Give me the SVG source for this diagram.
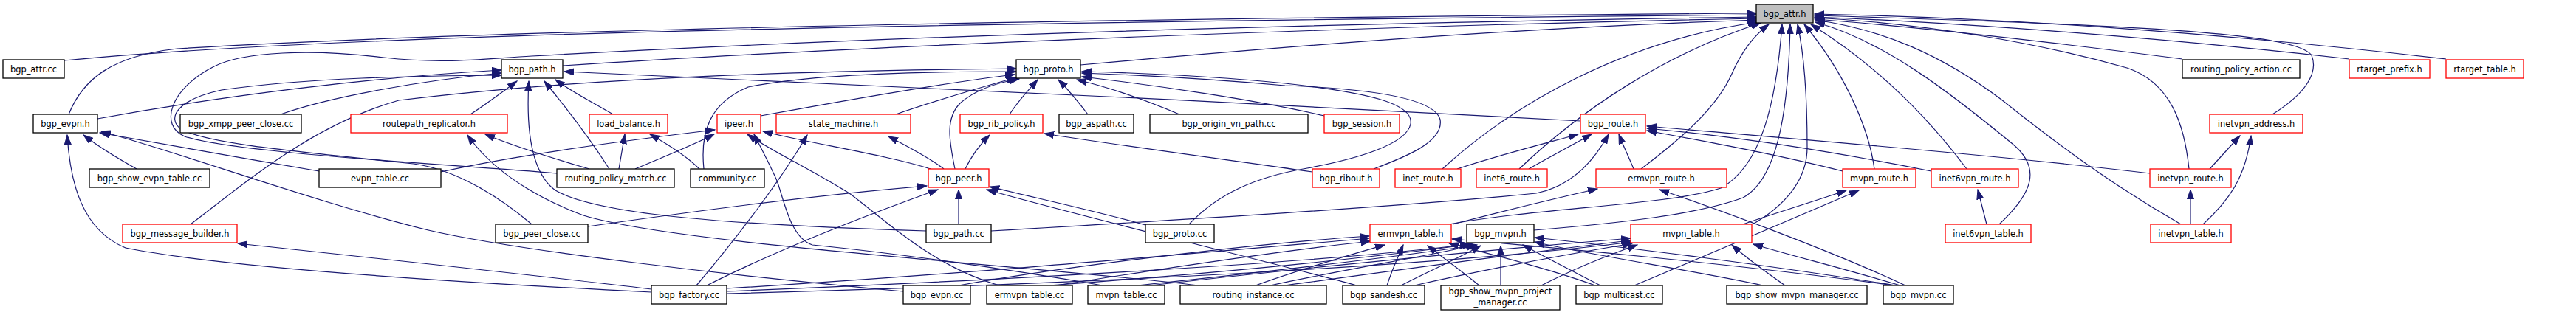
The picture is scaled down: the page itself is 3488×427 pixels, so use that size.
<svg xmlns="http://www.w3.org/2000/svg" width="3488" height="427" viewBox="0 0 3488 427">
<style>
.n rect{fill:#fff;stroke:#000;stroke-width:1.3}
.r rect{fill:#fff;stroke:#f00;stroke-width:1.3}
.g rect{fill:#bfbfbf;stroke:#000;stroke-width:1.3}
text{font-family:"DejaVu Sans","Liberation Sans",sans-serif;font-size:11.4px;text-anchor:middle;fill:#000}
#edges path{fill:none;stroke:#191970;stroke-width:1.2;marker-end:url(#ah)}
</style>
<defs>
<marker id="ah" markerWidth="14" markerHeight="10" refX="13" refY="5" orient="auto" markerUnits="userSpaceOnUse"><path d="M0,0.5 L13,5 L0,9.5 z" fill="#191970" stroke="#191970" stroke-width="1"/></marker>
</defs>
<rect width="3488" height="427" fill="#fff"/>
<g id="edges">
<path d="M87,82 C400,52 1000,33 2378,20"/>
<path d="M93,155 C112,108 150,76 240,66 C700,38 1600,24 2378,18"/>
<path d="M754,235 C600,222 320,208 250,185 C215,170 230,120 290,90 C330,70 420,66 520,78 C600,87 650,80 720,76 C1300,44 1900,30 2378,23"/>
<path d="M762,89 C1200,60 1900,34 2378,25"/>
<path d="M1463,88 C1750,62 2050,38 2378,27"/>
<path d="M1953,229 C2050,140 2200,55 2380,30"/>
<path d="M2057,229 C2140,150 2250,75 2384,31"/>
<path d="M2222,229 C2280,185 2325,145 2345,100 C2358,70 2375,48 2395,33"/>
<path d="M1962,304 C2080,282 2260,278 2330,255 C2385,225 2405,140 2413,33"/>
<path d="M2077,312 C2200,302 2300,290 2360,268 C2412,240 2422,130 2424,33"/>
<path d="M2373,304 C2415,280 2447,245 2447,200 C2447,130 2442,70 2434,33"/>
<path d="M2538,229 C2530,170 2495,95 2443,33"/>
<path d="M2663,229 C2630,185 2560,100 2452,33"/>
<path d="M2707,304 C2752,262 2765,228 2725,195 C2640,125 2550,55 2458,30"/>
<path d="M2953,304 C2880,262 2810,215 2710,135 C2630,75 2550,40 2458,27"/>
<path d="M2964,229 C2958,170 2940,112 2880,92 C2760,58 2610,32 2457,24"/>
<path d="M3077,155 C3120,128 3140,100 3130,75 C3110,45 2900,34 2457,21"/>
<path d="M2955,80 C2800,60 2620,38 2457,26"/>
<path d="M3181,80 C2920,50 2640,30 2457,23"/>
<path d="M3312,80 C3020,46 2720,24 2457,19"/>
<path d="M132,161 C300,130 500,105 679,95"/>
<path d="M380,155 C450,130 580,108 679,99"/>
<path d="M720,304 C680,270 620,230 560,222 C400,205 280,195 245,175 C225,160 240,135 300,122 C420,105 560,103 679,102"/>
<path d="M637,155 C660,140 680,125 700,110"/>
<path d="M1254,313 C1000,305 810,292 752,258 C720,235 712,180 716,110"/>
<path d="M825,229 C800,190 770,150 737,110"/>
<path d="M830,155 C805,140 775,125 752,108"/>
<path d="M2140,164 C1700,140 1100,110 764,97"/>
<path d="M258,304 C330,250 420,170 540,136 C800,104 1100,96 1376,93"/>
<path d="M953,229 C948,180 960,140 1013,118 C1100,100 1250,97 1376,97"/>
<path d="M1030,157 C1150,135 1280,112 1374,101"/>
<path d="M1213,155 C1270,135 1330,118 1376,105"/>
<path d="M1293,229 C1285,190 1280,160 1300,140 C1320,122 1350,112 1380,107"/>
<path d="M1367,155 C1380,135 1393,122 1405,108"/>
<path d="M1473,155 C1460,138 1447,122 1433,108"/>
<path d="M1597,155 C1550,135 1500,118 1458,108"/>
<path d="M1793,157 C1700,135 1560,115 1465,104"/>
<path d="M1610,304 C1650,262 1700,240 1770,228 C1840,215 1905,195 1910,168 C1915,140 1850,125 1740,113 C1650,104 1550,99 1465,97"/>
<path d="M1860,229 C1905,212 1955,192 1950,162 C1942,132 1850,120 1740,116 C1650,108 1550,102 1465,99"/>
<path d="M1973,229 C2030,210 2090,195 2137,182"/>
<path d="M2070,229 C2100,212 2130,196 2155,182"/>
<path d="M1342,313 C1600,298 1900,280 2080,262 C2130,252 2160,215 2178,182"/>
<path d="M2212,229 C2205,212 2198,198 2192,182"/>
<path d="M2495,232 C2400,208 2300,190 2230,177"/>
<path d="M2615,232 C2480,205 2350,185 2230,174"/>
<path d="M2911,235 C2700,210 2450,190 2230,171"/>
<path d="M185,229 C160,215 135,200 113,183"/>
<path d="M432,232 C330,215 220,195 135,180"/>
<path d="M1223,395 C1000,375 700,340 580,312 C420,272 260,212 137,178"/>
<path d="M882,396 C600,382 300,362 170,336 C112,312 95,250 91,183"/>
<path d="M882,392 C700,370 460,345 322,330"/>
<path d="M798,229 C750,215 700,200 657,182"/>
<path d="M1623,387 C1400,360 920,332 790,292 C710,262 660,222 633,183"/>
<path d="M838,229 L846,182"/>
<path d="M947,229 C930,212 905,196 880,182"/>
<path d="M597,233 C700,210 850,190 968,176"/>
<path d="M860,229 C900,212 940,196 967,182"/>
<path d="M1260,229 C1200,210 1100,195 1033,178"/>
<path d="M1353,387 C1260,360 1195,295 1150,262 C1090,225 1045,205 1012,182"/>
<path d="M1493,387 C1350,362 1200,342 1100,332 C1070,322 1062,272 1052,245 C1042,222 1030,200 1021,182"/>
<path d="M943,387 C1000,320 1060,240 1093,183"/>
<path d="M1278,229 C1260,215 1232,200 1203,185"/>
<path d="M1307,229 C1315,212 1325,198 1340,183"/>
<path d="M1777,233 C1650,215 1500,195 1414,181"/>
<path d="M796,307 C950,285 1100,265 1255,252"/>
<path d="M957,387 C1050,340 1150,300 1270,257"/>
<path d="M1298,304 L1298,257"/>
<path d="M1551,305 C1480,285 1400,268 1340,253"/>
<path d="M1837,387 C1700,350 1450,290 1336,257"/>
<path d="M1967,304 C2040,285 2110,268 2163,256"/>
<path d="M2580,387 C2480,340 2330,285 2247,257"/>
<path d="M2360,304 C2400,290 2450,275 2500,258"/>
<path d="M2213,387 C2300,350 2420,300 2517,258"/>
<path d="M2690,304 L2678,257"/>
<path d="M2992,229 L3033,184"/>
<path d="M2983,304 C3020,270 3040,240 3048,184"/>
<path d="M2966,304 L2966,257"/>
<path d="M984,391 C1300,372 1600,345 1854,323"/>
<path d="M984,395 C1400,378 1800,355 1990,331"/>
<path d="M984,398 C1500,384 1950,360 2210,328"/>
<path d="M1298,387 C1450,360 1700,330 1854,320"/>
<path d="M1430,387 C1600,360 1750,338 1856,327"/>
<path d="M1420,387 C1650,370 1850,350 1993,331"/>
<path d="M1540,387 C1700,370 1880,350 2000,332"/>
<path d="M1557,387 C1750,365 2000,340 2208,323"/>
<path d="M1700,387 C1760,365 1830,345 1875,332"/>
<path d="M1720,387 C1820,365 1930,348 1998,332"/>
<path d="M1740,387 C1900,365 2080,340 2208,326"/>
<path d="M1878,387 C1885,365 1893,348 1900,332"/>
<path d="M1897,387 C1940,365 1975,350 2005,333"/>
<path d="M1915,387 C2000,368 2120,345 2210,330"/>
<path d="M2003,387 C1980,368 1955,350 1933,333"/>
<path d="M2032,387 L2032,333"/>
<path d="M2087,387 C2130,365 2180,345 2217,332"/>
<path d="M2167,387 C2130,368 2095,350 2062,332"/>
<path d="M2160,387 C2100,365 2020,345 1962,330"/>
<path d="M2387,387 C2300,368 2150,345 2078,328"/>
<path d="M2417,387 C2390,368 2365,350 2345,332"/>
<path d="M2573,387 C2500,365 2420,345 2374,331"/>
<path d="M2567,387 C2400,360 2200,335 2078,322"/>
<path d="M2565,387 C2350,358 2100,335 1966,324"/>
</g>
<g id="bgp_attr_h" class="g"><rect x="2378" y="6" width="77" height="25"/><text x="2416.5" y="22.5">bgp_attr.h</text></g>
<g id="bgp_attr_cc" class="n"><rect x="4" y="81" width="83" height="25"/><text x="45.5" y="97.5">bgp_attr.cc</text></g>
<g id="bgp_path_h" class="n"><rect x="679" y="81" width="83" height="25"/><text x="720.5" y="97.5">bgp_path.h</text></g>
<g id="bgp_proto_h" class="n"><rect x="1376" y="81" width="87" height="25"/><text x="1419.5" y="97.5">bgp_proto.h</text></g>
<g id="routing_policy_action_cc" class="n"><rect x="2955" y="81" width="159" height="25"/><text x="3034.5" y="97.5">routing_policy_action.cc</text></g>
<g id="rtarget_prefix_h" class="r"><rect x="3181" y="81" width="109" height="25"/><text x="3235.5" y="97.5">rtarget_prefix.h</text></g>
<g id="rtarget_table_h" class="r"><rect x="3312" y="81" width="105" height="25"/><text x="3364.5" y="97.5">rtarget_table.h</text></g>
<g id="bgp_evpn_h" class="n"><rect x="45" y="155" width="87" height="25"/><text x="88.5" y="171.5">bgp_evpn.h</text></g>
<g id="bgp_xmpp_peer_close_cc" class="n"><rect x="244" y="155" width="164" height="25"/><text x="326" y="171.5">bgp_xmpp_peer_close.cc</text></g>
<g id="routepath_replicator_h" class="r"><rect x="475" y="155" width="212" height="25"/><text x="581" y="171.5">routepath_replicator.h</text></g>
<g id="load_balance_h" class="r"><rect x="798" y="155" width="106" height="25"/><text x="851" y="171.5">load_balance.h</text></g>
<g id="ipeer_h" class="r"><rect x="971" y="155" width="59" height="25"/><text x="1000.5" y="171.5">ipeer.h</text></g>
<g id="state_machine_h" class="r"><rect x="1051" y="155" width="182" height="25"/><text x="1142" y="171.5">state_machine.h</text></g>
<g id="bgp_rib_policy_h" class="r"><rect x="1300" y="155" width="112" height="25"/><text x="1356" y="171.5">bgp_rib_policy.h</text></g>
<g id="bgp_aspath_cc" class="n"><rect x="1434" y="155" width="101" height="25"/><text x="1484.5" y="171.5">bgp_aspath.cc</text></g>
<g id="bgp_origin_vn_path_cc" class="n"><rect x="1557" y="155" width="214" height="25"/><text x="1664" y="171.5">bgp_origin_vn_path.cc</text></g>
<g id="bgp_session_h" class="r"><rect x="1793" y="155" width="102" height="25"/><text x="1844" y="171.5">bgp_session.h</text></g>
<g id="bgp_route_h" class="r"><rect x="2140" y="155" width="88" height="25"/><text x="2184" y="171.5">bgp_route.h</text></g>
<g id="inetvpn_address_h" class="r"><rect x="2992" y="155" width="126" height="25"/><text x="3055" y="171.5">inetvpn_address.h</text></g>
<g id="bgp_show_evpn_table_cc" class="n"><rect x="121" y="229" width="163" height="25"/><text x="202.5" y="245.5">bgp_show_evpn_table.cc</text></g>
<g id="evpn_table_cc" class="n"><rect x="432" y="229" width="165" height="25"/><text x="514.5" y="245.5">evpn_table.cc</text></g>
<g id="routing_policy_match_cc" class="n"><rect x="754" y="229" width="159" height="25"/><text x="833.5" y="245.5">routing_policy_match.cc</text></g>
<g id="community_cc" class="n"><rect x="935" y="229" width="100" height="25"/><text x="985" y="245.5">community.cc</text></g>
<g id="bgp_peer_h" class="r"><rect x="1257" y="229" width="82" height="25"/><text x="1298" y="245.5">bgp_peer.h</text></g>
<g id="bgp_ribout_h" class="r"><rect x="1777" y="229" width="91" height="25"/><text x="1822.5" y="245.5">bgp_ribout.h</text></g>
<g id="inet_route_h" class="r"><rect x="1889" y="229" width="89" height="25"/><text x="1933.5" y="245.5">inet_route.h</text></g>
<g id="inet6_route_h" class="r"><rect x="1999" y="229" width="96" height="25"/><text x="2047" y="245.5">inet6_route.h</text></g>
<g id="ermvpn_route_h" class="r"><rect x="2161" y="229" width="177" height="25"/><text x="2249.5" y="245.5">ermvpn_route.h</text></g>
<g id="mvpn_route_h" class="r"><rect x="2495" y="229" width="99" height="25"/><text x="2544.5" y="245.5">mvpn_route.h</text></g>
<g id="inet6vpn_route_h" class="r"><rect x="2615" y="229" width="118" height="25"/><text x="2674" y="245.5">inet6vpn_route.h</text></g>
<g id="inetvpn_route_h" class="r"><rect x="2911" y="229" width="110" height="25"/><text x="2966" y="245.5">inetvpn_route.h</text></g>
<g id="bgp_message_builder_h" class="r"><rect x="166" y="304" width="155" height="25"/><text x="243.5" y="320.5">bgp_message_builder.h</text></g>
<g id="bgp_peer_close_cc" class="n"><rect x="671" y="304" width="125" height="25"/><text x="733.5" y="320.5">bgp_peer_close.cc</text></g>
<g id="bgp_path_cc" class="n"><rect x="1254" y="304" width="88" height="25"/><text x="1298" y="320.5">bgp_path.cc</text></g>
<g id="bgp_proto_cc" class="n"><rect x="1551" y="304" width="93" height="25"/><text x="1597.5" y="320.5">bgp_proto.cc</text></g>
<g id="ermvpn_table_h" class="r"><rect x="1855" y="304" width="110" height="25"/><text x="1910" y="320.5">ermvpn_table.h</text></g>
<g id="bgp_mvpn_h" class="n"><rect x="1986" y="304" width="91" height="25"/><text x="2031.5" y="320.5">bgp_mvpn.h</text></g>
<g id="mvpn_table_h" class="r"><rect x="2208" y="304" width="164" height="25"/><text x="2290" y="320.5">mvpn_table.h</text></g>
<g id="inet6vpn_table_h" class="r"><rect x="2634" y="304" width="116" height="25"/><text x="2692" y="320.5">inet6vpn_table.h</text></g>
<g id="inetvpn_table_h" class="r"><rect x="2912" y="304" width="109" height="25"/><text x="2966.5" y="320.5">inetvpn_table.h</text></g>
<g id="bgp_factory_cc" class="n"><rect x="882" y="387" width="102" height="25"/><text x="933" y="403.5">bgp_factory.cc</text></g>
<g id="bgp_evpn_cc" class="n"><rect x="1223" y="387" width="91" height="25"/><text x="1268.5" y="403.5">bgp_evpn.cc</text></g>
<g id="ermvpn_table_cc" class="n"><rect x="1336" y="387" width="116" height="25"/><text x="1394" y="403.5">ermvpn_table.cc</text></g>
<g id="mvpn_table_cc" class="n"><rect x="1473" y="387" width="104" height="25"/><text x="1525" y="403.5">mvpn_table.cc</text></g>
<g id="routing_instance_cc" class="n"><rect x="1598" y="387" width="198" height="25"/><text x="1697" y="403.5">routing_instance.cc</text></g>
<g id="bgp_sandesh_cc" class="n"><rect x="1818" y="387" width="111" height="25"/><text x="1873.5" y="403.5">bgp_sandesh.cc</text></g>
<g id="bgp_show_mvpn_project_manager_cc" class="n"><rect x="1951" y="387" width="161" height="33"/><text x="2031.5" y="399">bgp_show_mvpn_project</text><text x="2031.5" y="414">_manager.cc</text></g>
<g id="bgp_multicast_cc" class="n"><rect x="2134" y="387" width="117" height="25"/><text x="2192.5" y="403.5">bgp_multicast.cc</text></g>
<g id="bgp_show_mvpn_manager_cc" class="n"><rect x="2338" y="387" width="190" height="25"/><text x="2433" y="403.5">bgp_show_mvpn_manager.cc</text></g>
<g id="bgp_mvpn_cc" class="n"><rect x="2550" y="387" width="95" height="25"/><text x="2597.5" y="403.5">bgp_mvpn.cc</text></g>
</svg>
